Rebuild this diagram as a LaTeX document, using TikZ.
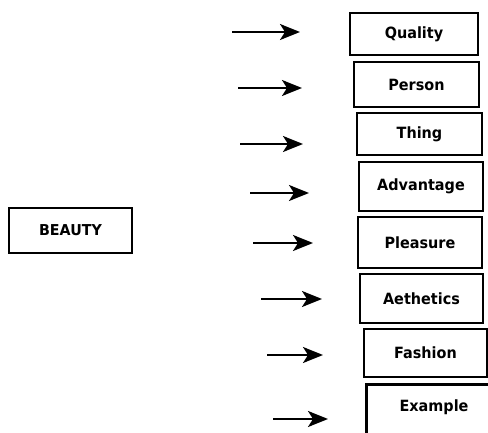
\documentclass[tikz,border=0pt]{standalone}
\usepackage{fontspec}
\setmainfont{DejaVu Sans}
\newfontfamily\boxfont[FakeStretch=0.93]{DejaVu Sans Bold}
\newfontfamily\beautyfont[FakeStretch=0.95]{DejaVu Sans Bold}
\usetikzlibrary{arrows.meta}
\begin{document}
\begin{tikzpicture}[x=1pt,y=-1pt,
  wbox/.style={draw=black,line width=2.6pt,rectangle,inner sep=0pt,
    font=\boxfont\fontsize{15.5}{17}\selectfont},
  arr/.style={line width=2pt,-{Stealth[length=20pt,width=16pt,inset=5pt]}}]
\useasboundingbox (0,0) rectangle (488,433);
\clip (0,0) rectangle (488,433);
\node[wbox,minimum width=123pt,minimum height=45pt,font=\beautyfont\fontsize{15}{17}\selectfont] (beauty) at (70.5,230.5) {BEAUTY};
\node[wbox,minimum width=128pt,minimum height=42pt] (quality) at (414,34) {Quality};
\node[wbox,minimum width=125pt,minimum height=45pt] (person) at (416.5,84.5) {Person};
\node[wbox,minimum width=125pt,minimum height=42pt] (thing) at (419.5,134) {Thing};
\node[wbox,minimum width=124pt,minimum height=49pt] (advantage) at (421,186.5) {Advantage};
\node[wbox,minimum width=124pt,minimum height=51pt] (pleasure) at (420,242.5) {Pleasure};
\node[wbox,minimum width=123pt,minimum height=49pt] (aethetics) at (421.5,298.5) {Aethetics};
\node[wbox,minimum width=123pt,minimum height=48pt] (fashion) at (425.5,353) {Fashion};
\node[wbox,minimum width=125pt,minimum height=60pt,anchor=north west] (example) at (365,383) {};
\node[font=\boxfont\fontsize{15.5}{17}\selectfont] (extext) at (434,407) {Example};
\coordinate (a1s) at (232,32);  \coordinate (a1e) at (300,32);
\coordinate (a2s) at (238,88);  \coordinate (a2e) at (302,88);
\coordinate (a3s) at (240,144); \coordinate (a3e) at (303,144);
\coordinate (a4s) at (250,193); \coordinate (a4e) at (309,193);
\coordinate (a5s) at (253,243); \coordinate (a5e) at (313,243);
\coordinate (a6s) at (261,299); \coordinate (a6e) at (322,299);
\coordinate (a7s) at (267,355); \coordinate (a7e) at (323,355);
\coordinate (a8s) at (273,419); \coordinate (a8e) at (328,419);
\foreach \i in {1,...,8} \draw[arr] (a\i s) -- (a\i e);
\end{tikzpicture}
\end{document}
